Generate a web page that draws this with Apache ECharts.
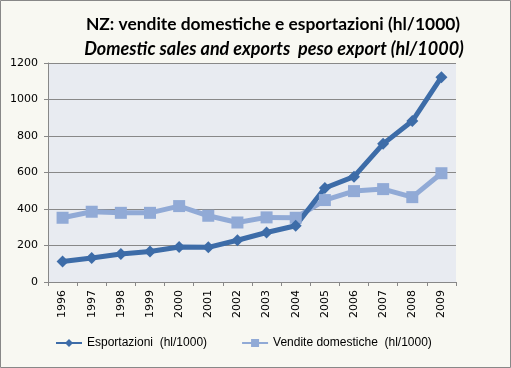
<!DOCTYPE html>
<html><head><meta charset="utf-8">
<script src="https://cdn.jsdelivr.net/npm/echarts@6/dist/echarts.min.js"></script>
<style>html,body{margin:0;padding:0;background:#F8F8F2}#c{width:511px;height:368px}</style>
</head><body><div id="c"></div>
<script>
const years = ['1996','1997','1998','1999','2000','2001','2002','2003','2004','2005','2006','2007','2008','2009'];
const esportazioni = [112, 132, 153, 167, 192, 190, 229, 271, 308, 515, 577, 757, 882, 1122];
const vendite = [352, 385, 379, 379, 416, 363, 326, 354, 352, 449, 498, 509, 465, 596];
const yTicks = [0, 200, 400, 600, 800, 1000, 1200];

const chart = echarts.init(document.getElementById('c'), null, {renderer:'canvas'});
chart.setOption({
  backgroundColor: '#F8F8F2',
  animation: false,
  title: [
    {text: 'NZ: vendite domestiche e esportazioni (hl/1000)', left: 268, top: 11, textAlign: 'center',
     textStyle: {fontFamily: 'Lato', fontWeight: 'bold', fontSize: 17.4, color: '#000'}},
    {text: 'Domestic sales and exports  peso export (hl/1000)', left: 269, top: 35, textAlign: 'center',
     textStyle: {fontFamily: 'Lato', fontWeight: 'bold', fontStyle: 'italic', fontSize: 18, color: '#000'}}
  ],
  graphic: [{type: 'rect', shape: {x: 0.5, y: 0.5, width: 510, height: 367}, style: {fill: 'none', stroke: '#888', lineWidth: 1}, silent: true}],
  grid: {left: 48, right: 55, top: 63, bottom: 86, backgroundColor: '#E8EBF1', show: true, borderWidth: 0},
  legend: {
    bottom: 14, left: 50, itemGap: 34, itemWidth: 26, itemHeight: 10,
    textStyle: {fontFamily: 'Liberation Sans', fontSize: 12, color: '#000'},
    data: ['Esportazioni  (hl/1000)', 'Vendite domestiche  (hl/1000)']
  },
  xAxis: {
    type: 'category', data: years, boundaryGap: true,
    axisLine: {lineStyle: {color: '#888'}},
    axisTick: {show: true, length: 4, lineStyle: {color: '#888'}},
    axisLabel: {rotate: 90, fontFamily: 'DejaVu Sans', fontSize: 11, color: '#000', margin: 8}
  },
  yAxis: {
    type: 'value', min: 0, max: 1200, interval: 200,
    axisLine: {show: true, lineStyle: {color: '#888'}},
    axisTick: {show: true, length: 4, lineStyle: {color: '#888'}},
    splitLine: {lineStyle: {color: '#888', width: 1}},
    axisLabel: {fontFamily: 'DejaVu Sans', fontSize: 11, color: '#000', margin: 10,
      formatter: v => yTicks.includes(v) ? String(v) : ''}
  },
  series: [
    {name: 'Vendite domestiche  (hl/1000)', type: 'line', data: vendite, symbol: 'rect', symbolSize: 12,
     lineStyle: {width: 5, color: '#91AAD6'}, itemStyle: {color: '#91AAD6'}, color: '#91AAD6'},
    {name: 'Esportazioni  (hl/1000)', type: 'line', data: esportazioni, symbol: 'diamond', symbolSize: 12,
     lineStyle: {width: 5, color: '#3D6CA8'}, itemStyle: {color: '#3D6CA8'}, color: '#3D6CA8'}
  ]
});
</script></body></html>
